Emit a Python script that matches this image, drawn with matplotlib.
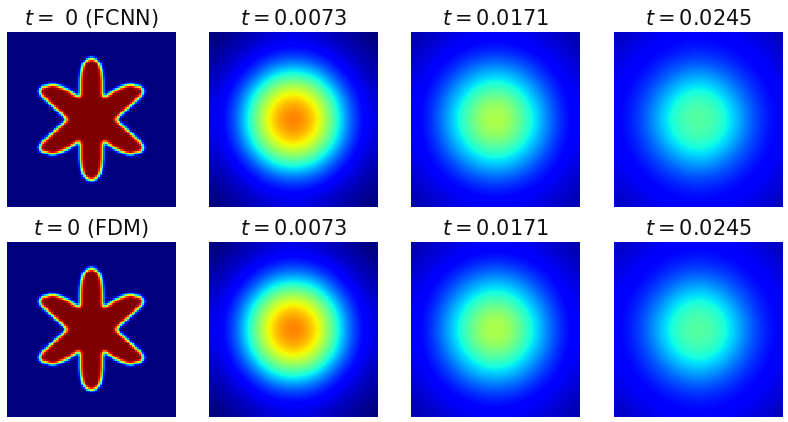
import numpy as np
import matplotlib
matplotlib.use("Agg")
import matplotlib.pyplot as plt

W, H = 788, 422

titles_top = [r"$t=$ 0 (FCNN)", r"$t=0.0073$", r"$t=0.0171$", r"$t=0.0245$"]
titles_bottom = [r"$t=0$ (FDM)", r"$t=0.0073$", r"$t=0.0171$", r"$t=0.0245$"]

# Star read row by row from its centre outwards (one quadrant, in cells of a 100x100 grid)
star_outer = [14.8, 16, 17.2, 18.3, 19.5, 20.6, 21.8, 23, 24.2, 25.3, 26.3, 27.4, 28.4,
              29.4, 30.2, 30.7, 30.8, 30.3, 29, 25.5,
              6.7, 6.7, 6.6, 6.6, 6.5, 6.4, 6.3, 6.1, 5.9, 5.6, 5.3, 4.9, 4.3, 3, 1.5]
star_gap_from = [0] * 13 + [6.7] * 7 + [0] * 15
star_gap_to = [0] * 13 + [8.7, 10.4, 11.8, 13.4, 15.2, 17.6, 20.5] + [0] * 15

# Diffused fields: one quadrant, centre at [0][0], corner at [-1][-1]
field_0073 = [
    [.79, .76, .68, .54, .38, .23, .14, .09],
    [.76, .73, .65, .52, .36, .22, .135, .085],
    [.68, .65, .57, .45, .31, .19, .12, .075],
    [.54, .52, .45, .34, .23, .15, .10, .06],
    [.38, .36, .31, .23, .16, .11, .075, .045],
    [.23, .22, .19, .15, .11, .08, .055, .03],
    [.14, .135, .12, .10, .075, .055, .035, .015],
    [.09, .085, .075, .06, .045, .03, .015, 0],
]
field_0171 = [
    [.57, .555, .485, .40, .31, .225, .155, .115],
    [.555, .535, .47, .385, .30, .215, .15, .113],
    [.485, .47, .415, .34, .27, .195, .14, .105],
    [.40, .385, .34, .285, .225, .165, .125, .095],
    [.31, .30, .27, .225, .175, .14, .11, .085],
    [.225, .215, .195, .165, .14, .115, .09, .07],
    [.155, .15, .14, .125, .11, .09, .075, .06],
    [.115, .113, .105, .095, .085, .07, .06, .045],
]
field_0245 = [
    [.46, .45, .41, .345, .27, .20, .155, .125],
    [.45, .435, .395, .33, .26, .195, .15, .122],
    [.41, .395, .355, .295, .23, .18, .14, .12],
    [.345, .33, .295, .245, .20, .16, .13, .11],
    [.27, .26, .23, .20, .165, .135, .12, .095],
    [.20, .195, .18, .16, .135, .122, .105, .085],
    [.155, .15, .14, .13, .12, .105, .09, .075],
    [.125, .122, .12, .11, .095, .085, .075, .06],
]


def mirror(q):
    q = np.asarray(q, float)
    top = np.hstack([q[:, :0:-1], q])
    return np.vstack([top[:0:-1], top])


def star_field():
    n = 50
    q = np.zeros((n, n))
    xs = np.arange(n, dtype=float)
    for k, outer in enumerate(star_outer):
        row = np.clip(outer - xs, 0, 1)
        if star_gap_to[k] > 0:
            row -= np.clip(star_gap_to[k] - xs, 0, 1) - np.clip(star_gap_from[k] - xs, 0, 1)
        q[k] = row
    f = np.vstack([q[::-1], q])
    f = np.hstack([f[:, ::-1], f])
    kernel = np.array([1, 2, 1]) / 4.0
    for _ in range(2):
        for axis in (0, 1):
            f = np.apply_along_axis(lambda v: np.convolve(v, kernel, mode="same"), axis, f)
    return f


fig = plt.figure(figsize=(W / 100, H / 100), dpi=100, facecolor="white")
lefts = [7, 209, 411, 614]
tops = [32, 242]
w, h = 169, 175
panels = [
    [star_field(), mirror(field_0073), mirror(field_0171), mirror(field_0245)],
    [star_field(), mirror(field_0073), mirror(field_0171), mirror(field_0245)],
]
for r, (top, labels) in enumerate(zip(tops, [titles_top, titles_bottom])):
    for c, left in enumerate(lefts):
        ax = fig.add_axes([left / W, 1 - (top + h) / H, w / W, h / H])
        interp = "nearest" if c == 0 else "bicubic"
        ax.imshow(panels[r][c], cmap="jet", vmin=0, vmax=1, aspect="auto", interpolation=interp)
        ax.set_axis_off()
        ax.set_title(labels[c], fontsize=15, pad=5, color="#111111")
fig.savefig("out.png", dpi=100, facecolor="white")
